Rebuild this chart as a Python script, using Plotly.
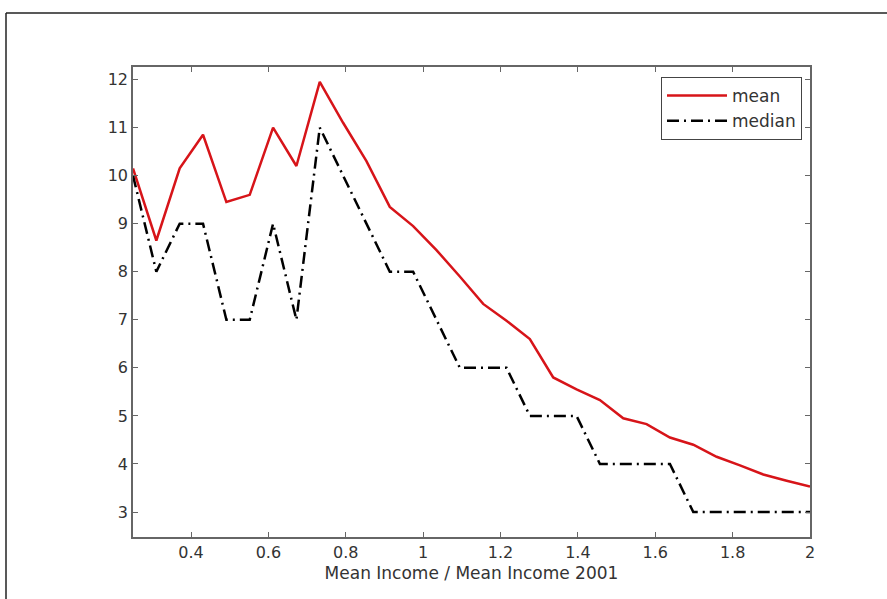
import numpy as np
import plotly.graph_objects as go

x_vals = list(np.linspace(0.25, 2.0, 30))
mean_vals = [10.15, 8.65, 10.15, 10.85, 9.45, 9.6, 11.0, 10.2, 11.95, 11.1,
             10.3, 9.35, 8.95, 8.45, 7.9, 7.33, 6.98, 6.6, 5.8, 5.55,
             5.33, 4.95, 4.83, 4.55, 4.4, 4.15, 3.97, 3.78, 3.65, 3.53]
median_vals = [10, 8, 9, 9, 7, 7, 9, 7, 11, 10,
               9, 8, 8, 7, 6, 6, 6, 5, 5, 5,
               4, 4, 4, 4, 3, 3, 3, 3, 3, 3]
x_ticks = [0.4, 0.6, 0.8, 1.0, 1.2, 1.4, 1.6, 1.8, 2.0]
x_tick_labels = ["0.4", "0.6", "0.8", "1", "1.2", "1.4", "1.6", "1.8", "2"]
y_ticks = [3, 4, 5, 6, 7, 8, 9, 10, 11, 12]

W, H = 887, 599
ML, MR, MT, MB = 133, 77, 67, 62
PW, PH = W - ML - MR, H - MT - MB
FONT = "DejaVu Sans, Liberation Sans, Arial"

fig = go.Figure()
fig.add_trace(go.Scatter(x=x_vals, y=mean_vals, mode="lines", name="mean",
                         line=dict(color="rgb(215,20,25)", width=2.5)))
fig.add_trace(go.Scatter(x=x_vals, y=median_vals, mode="lines", name="median",
                         line=dict(color="black", width=2.5, dash="12px,5px,2px,5px")))

axis_common = dict(showgrid=False, zeroline=False, showline=True, linecolor="#666",
                   linewidth=1.5, mirror="ticks", ticks="inside", ticklen=5,
                   tickcolor="#666", tickwidth=1,
                   tickfont=dict(family=FONT, size=16, color="#333"))

fig.update_xaxes(range=[0.25, 2.0], tickvals=x_ticks, ticktext=x_tick_labels,
                 title=dict(text="Mean Income / Mean Income 2001", standoff=6,
                            font=dict(family=FONT, size=17, color="#333")),
                 **axis_common)
fig.update_yaxes(range=[2.48, 12.26], tickvals=y_ticks, **axis_common)

def px2paper_x(px):
    return (px - ML) / PW

def px2paper_y(py):
    return (H - MB - py) / PH

# outer figure frame (top and left edges)
fig.add_shape(type="line", xref="paper", yref="paper",
              x0=px2paper_x(6), x1=px2paper_x(W + 5), y0=px2paper_y(13), y1=px2paper_y(13),
              line=dict(color="#222", width=1.5))
fig.add_shape(type="line", xref="paper", yref="paper",
              x0=px2paper_x(6), x1=px2paper_x(6), y0=px2paper_y(13), y1=px2paper_y(H + 5),
              line=dict(color="#222", width=1.5))

fig.update_layout(
    width=W, height=H,
    margin=dict(l=ML, r=MR, t=MT, b=MB),
    paper_bgcolor="white", plot_bgcolor="white",
    showlegend=True,
    legend=dict(x=px2paper_x(802), y=px2paper_y(77), xanchor="right", yanchor="top",
                bordercolor="#444", borderwidth=1, bgcolor="white",
                font=dict(family=FONT, size=17, color="#333"),
                itemwidth=60, tracegroupgap=0),
)

fig.write_html("out.html")
